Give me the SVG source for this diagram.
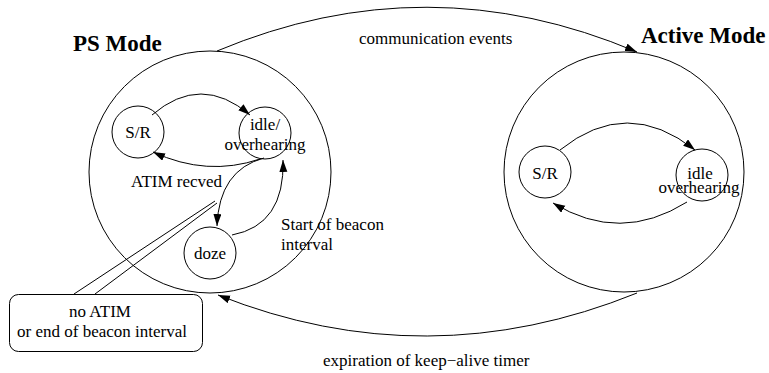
<svg xmlns="http://www.w3.org/2000/svg" width="769" height="373" viewBox="0 0 769 373">
<style>
.st{fill:none;stroke:#000;stroke-width:1}
.t{font-family:"Liberation Serif","Times New Roman",Times,serif;font-size:17px;fill:#000}
.c{text-anchor:middle}
.b{font-family:"Liberation Serif","Times New Roman",Times,serif;font-size:23px;font-weight:bold;fill:#000}
</style>
<defs>
<marker id="ah" markerUnits="userSpaceOnUse" markerWidth="14" markerHeight="10" refX="12" refY="4" orient="auto">
<path d="M0,0 L12,4 L0,8 z" fill="#000"/>
</marker>
</defs>
<rect width="769" height="373" fill="#fff"/>
<g id="ps-mode">
<circle class="st" cx="210" cy="172" r="121"/>
<text class="b" x="73" y="51">PS Mode</text>
</g>
<g id="active-mode">
<circle class="st" cx="624" cy="172" r="120"/>
<text class="b" x="641" y="43">Active Mode</text>
</g>
<g id="ps-sr">
<circle class="st" cx="138" cy="132" r="26"/>
<text class="t c" x="138" y="138">S/R</text>
</g>
<g id="ps-idle">
<circle class="st" cx="265" cy="133" r="26"/>
<text class="t c" x="265" y="130">idle/</text>
<text class="t c" x="265" y="150">overhearing</text>
</g>
<g id="ps-doze">
<circle class="st" cx="210" cy="253" r="26"/>
<text class="t c" x="210" y="259">doze</text>
</g>
<g id="act-sr">
<circle class="st" cx="545" cy="172" r="26"/>
<text class="t c" x="545" y="179">S/R</text>
</g>
<g id="act-idle">
<circle class="st" cx="702" cy="175" r="26"/>
<text class="t c" x="700" y="179">idle</text>
<text class="t c" x="699" y="193">overhearing</text>
</g>
<g id="note">
<rect class="st" x="9.5" y="294.5" width="193" height="57" rx="9" ry="9"/>
<text class="t c" x="100" y="317">no ATIM</text>
<text class="t c" x="102" y="337">or end of beacon interval</text>
</g>
<g id="connectors">
<path class="st" d="M217,51 Q427,-37 637,52" marker-end="url(#ah)"/>
<path class="st" d="M637,293 Q427,378 218,295" marker-end="url(#ah)"/>
<path class="st" d="M152,115 Q201,73 250,115" marker-end="url(#ah)"/>
<path class="st" d="M260,159 Q207,177 153,152" marker-end="url(#ah)"/>
<path class="st" d="M264,158 Q219,170 217,226" marker-end="url(#ah)"/>
<path class="st" d="M232,235 Q285,225 283,160" marker-end="url(#ah)"/>
<path class="st" d="M560,150 Q627,96 695,150" marker-end="url(#ah)"/>
<path class="st" d="M687,202 Q620,244 553,203" marker-end="url(#ah)"/>
<path class="st" d="M74,294 L215,201 M95,294 L217,203"/>
</g>
<g id="labels">
<text class="t" x="359" y="44">communication events</text>
<text class="t" x="323" y="366">expiration of keep−alive timer</text>
<text class="t" x="131" y="187">ATIM recved</text>
<text class="t" x="281" y="230">Start of beacon</text>
<text class="t" x="281" y="250">interval</text>
</g>
</svg>
